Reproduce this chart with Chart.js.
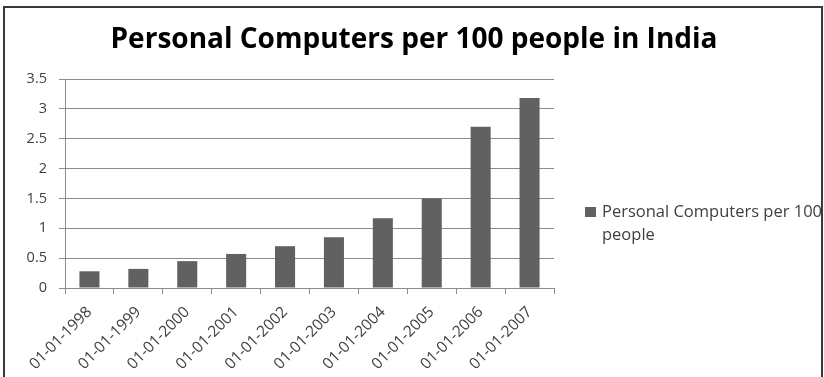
<!DOCTYPE html>
<html>
<head>
<meta charset="utf-8">
<script src="https://cdn.jsdelivr.net/npm/chart.js@4"></script>
<style>
  html, body { margin: 0; padding: 0; background: #fff; }
  #wrap { width: 824px; height: 377px; }
</style>
</head>
<body>
<div id="wrap"><canvas id="pc-chart" width="824" height="377"></canvas></div>
<script>
// data
const years = ['01-01-1998', '01-01-1999', '01-01-2000', '01-01-2001', '01-01-2002',
               '01-01-2003', '01-01-2004', '01-01-2005', '01-01-2006', '01-01-2007'];
const pcPer100 = [0.28, 0.32, 0.45, 0.57, 0.70, 0.85, 1.17, 1.50, 2.70, 3.18];
const seriesLabel = 'Personal Computers per 100 people';
const chartTitle = 'Personal Computers per 100 people in India';

const barColor = '#616161';
const gridColor = '#8c8c8c';
const textColor = '#404040';
const fontFamily = '"Open Sans", sans-serif';

// frame around the chart, like the spreadsheet chart object
const framePlugin = {
  id: 'frame',
  beforeDraw(chart) {
    const ctx = chart.ctx;
    ctx.save();
    ctx.strokeStyle = '#3a3a3a';
    ctx.lineWidth = 2;
    ctx.strokeRect(4, 7, 818, 380);
    ctx.restore();
  }
};

// title centred over the whole chart, legend on the right wrapped onto two lines
const textPlugin = {
  id: 'titleAndLegend',
  afterDraw(chart) {
    const ctx = chart.ctx;
    const ds = chart.data.datasets[0];
    ctx.save();
    ctx.fillStyle = '#000';
    ctx.font = 'bold 28px ' + fontFamily;
    ctx.textAlign = 'center';
    ctx.textBaseline = 'middle';
    ctx.fillText(chartTitle, 414, 40);

    ctx.textAlign = 'left';
    ctx.fillStyle = ds.backgroundColor;
    ctx.fillRect(585, 207, 11, 10);
    ctx.fillStyle = textColor;
    ctx.font = '16.5px ' + fontFamily;
    ctx.fillText('Personal Computers per 100', 602, 212);
    ctx.fillText('people', 602, 235);
    ctx.restore();
  }
};

const ctx = document.getElementById('pc-chart').getContext('2d');
new Chart(ctx, {
  type: 'bar',
  data: {
    labels: years,
    datasets: [{
      label: seriesLabel,
      data: pcPer100,
      backgroundColor: barColor,
      borderWidth: 0,
      barPercentage: 0.82,
      categoryPercentage: 0.5
    }]
  },
  options: {
    responsive: false,
    animation: false,
    layout: { padding: { top: 79, left: 16, right: 270, bottom: 0 } },
    plugins: {
      legend: { display: false },
      tooltip: { enabled: false },
      title: { display: false }
    },
    scales: {
      x: {
        grid: { offset: true, drawOnChartArea: false, drawTicks: true, tickLength: 6, color: gridColor },
        border: { color: gridColor },
        ticks: {
          color: textColor,
          font: { family: fontFamily, size: 15.5 },
          maxRotation: 45, minRotation: 45, padding: 9
        },
        afterFit(scale) { scale.height = 89; }
      },
      y: {
        min: 0, max: 3.5,
        grid: { color: gridColor, tickLength: 6 },
        border: { color: gridColor },
        ticks: {
          stepSize: 0.5, color: textColor,
          font: { family: fontFamily, size: 14.5 },
          padding: 12,
          callback: v => String(v)
        },
        afterFit(scale) { scale.width = 49; }
      }
    }
  },
  plugins: [framePlugin, textPlugin]
});
</script>
</body>
</html>
